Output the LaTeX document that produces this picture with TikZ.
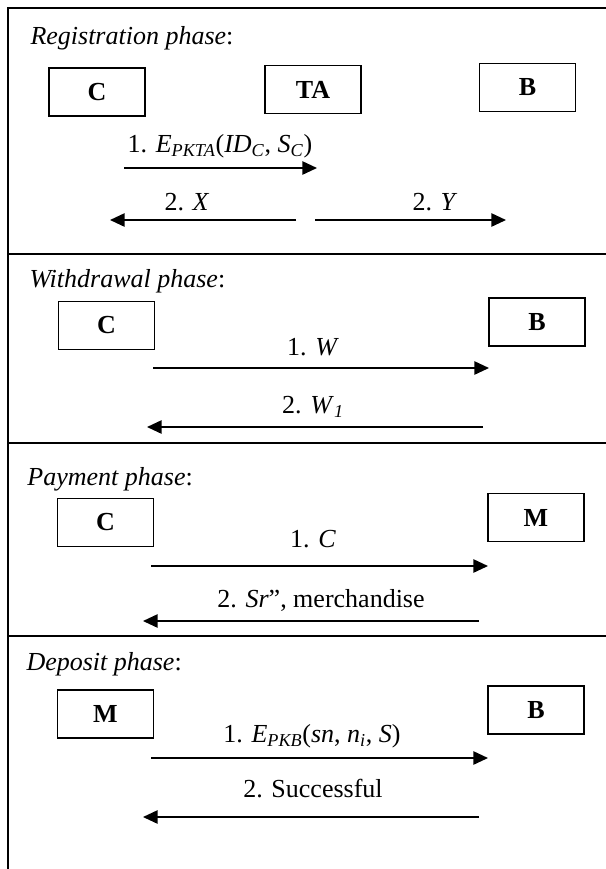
\documentclass[tikz,border=0pt]{standalone}
\usepackage{fontspec}
\setmainfont{Liberation Serif}
\usetikzlibrary{arrows.meta}

\tikzset{every picture/.style={line width=0.75pt}}
\tikzset{
  entity/.style={draw, line width=1.1pt, minimum width=72pt, minimum height=36pt, inner sep=0pt, font=\fontsize{19.5}{23}\selectfont\bfseries},
  msg/.style={line width=1.25pt, -{Triangle[length=11pt,width=10pt]}},
  phasetitle/.style={anchor=base west, inner sep=0pt, font=\fontsize{19.5}{23}\selectfont\itshape},
  msglabel/.style={anchor=base, inner sep=0pt, font=\fontsize{19.5}{23}\selectfont},
  frameline/.style={line width=1.5pt}
}
\newcommand{\itv}[1]{\textit{#1}}
\newcommand{\lowsub}[1]{\textsubscript{\textit{#1}}}

\begin{document}
\begin{tikzpicture}[x=0.75pt,y=0.75pt,yscale=-1,xscale=1]
    \useasboundingbox (0,0) rectangle (606,869);

    %Frame
    \draw [frameline] (606,8) -- (7.5,8) -- (7.5,869) ;
    \draw [frameline] (7.5,254) -- (606,254) ;
    \draw [frameline] (7.5,443) -- (606,443) ;
    \draw [frameline] (7.5,636) -- (606,636) ;

    %%% Registration phase
    \node [phasetitle] (regtitle) at (30,44) {Registration phase\upshape:};
    \node [entity] (regC) at (97,92) {C};
    \node [entity] (regTA) at (313,89.5) {TA};
    \node [entity] (regB) at (527.5,87.5) {B};
    \coordinate (r1s) at (124,168);
    \coordinate (r1e) at (317,168);
    \coordinate (r2s) at (296,220);
    \coordinate (r2e) at (110,220);
    \coordinate (r3s) at (315,220);
    \coordinate (r3e) at (506,220);
    \draw [msg] (r1s) -- (r1e) ;
    \draw [msg] (r2s) -- (r2e) ;
    \draw [msg] (r3s) -- (r3e) ;
    % Text Node
    \node [msglabel] (r1lab) at (220,152) {1. \itv{E}\lowsub{PKTA}(\itv{ID}\lowsub{C}, \itv{S}\lowsub{C})};
    % Text Node
    \node [msglabel] (r2lab) at (187,210) {2. \itv{X}};
    % Text Node
    \node [msglabel] (r3lab) at (435,210) {2. \itv{Y}};

    %%% Withdrawal phase
    \node [phasetitle] (wdtitle) at (29,287) {Withdrawal phase\upshape:};
    \node [entity] (wdC) at (106.5,325.5) {C};
    \node [entity] (wdB) at (537,322) {B};
    \coordinate (w1s) at (153,368);
    \coordinate (w1e) at (489,368);
    \coordinate (w2s) at (483,427);
    \coordinate (w2e) at (147,427);
    \draw [msg] (w1s) -- (w1e) ;
    \draw [msg] (w2s) -- (w2e) ;
    % Text Node
    \node [msglabel] (w1lab) at (313,355) {1. \itv{W}};
    % Text Node
    \node [msglabel] (w2lab) at (313,413) {2. \itv{W}\lowsub{1}};

    %%% Payment phase
    \node [phasetitle] (paytitle) at (27,485) {Payment phase\upshape:};
    \node [entity] (payC) at (105.5,522.5) {C};
    \node [entity] (payM) at (536,517.5) {M};
    \coordinate (p1s) at (151,566);
    \coordinate (p1e) at (488,566);
    \coordinate (p2s) at (479,621);
    \coordinate (p2e) at (143,621);
    \draw [msg] (p1s) -- (p1e) ;
    \draw [msg] (p2s) -- (p2e) ;
    % Text Node
    \node [msglabel] (p1lab) at (313,547) {1. \itv{C}};
    % Text Node
    \node [msglabel] (p2lab) at (321,607) {2. \itv{Sr}”, merchandise};

    %%% Deposit phase
    \node [phasetitle] (deptitle) at (26,670) {Deposit phase\upshape:};
    \node [entity] (depM) at (105.5,714) {M};
    \node [entity] (depB) at (536,710) {B};
    \coordinate (d1s) at (151,758);
    \coordinate (d1e) at (488,758);
    \coordinate (d2s) at (479,817);
    \coordinate (d2e) at (143,817);
    \draw [msg] (d1s) -- (d1e) ;
    \draw [msg] (d2s) -- (d2e) ;
    % Text Node
    \node [msglabel] (d1lab) at (312,742) {1. \itv{E}\lowsub{PKB}(\itv{sn}, \itv{n}\lowsub{i}, \itv{S})};
    % Text Node
    \node [msglabel] (d2lab) at (313,797) {2. Successful};

\end{tikzpicture}
\end{document}
